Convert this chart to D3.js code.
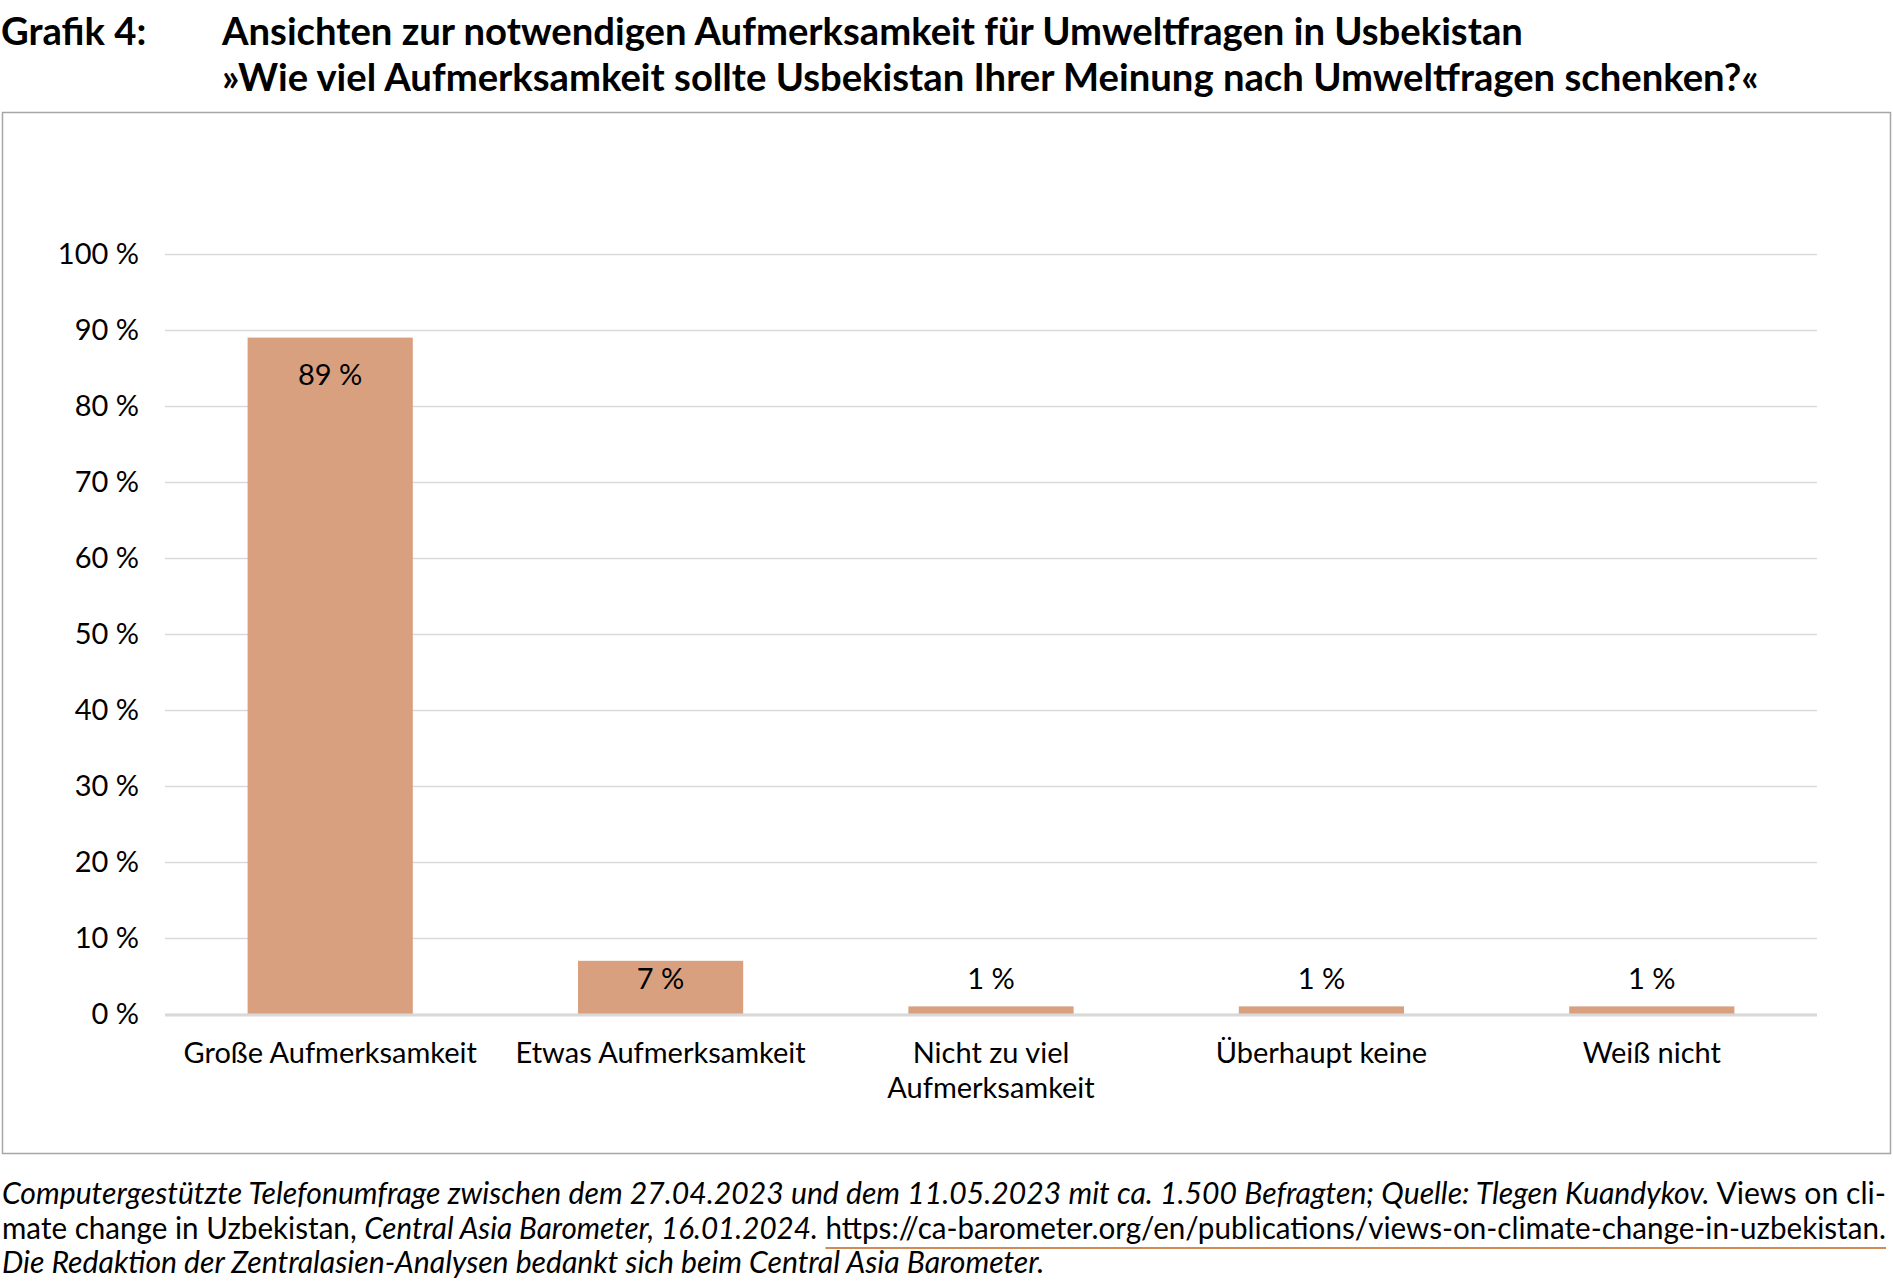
<!DOCTYPE html>
<html>
<head>
<meta charset="utf-8">
<script src="https://cdn.jsdelivr.net/npm/d3@7"></script>
<style>
  html, body { margin: 0; padding: 0; background: #fff; }
  svg { display: block; font-family: Lato, "Open Sans", sans-serif; }
</style>
</head>
<body>
<svg id="chart" width="1893" height="1283"></svg>
<script>
// ---- data ----
const categories = ["Große Aufmerksamkeit", "Etwas Aufmerksamkeit", "Nicht zu viel Aufmerksamkeit", "Überhaupt keine", "Weiß nicht"];
const values = [89, 7, 1, 1, 1];
const yTickValues = [0, 10, 20, 30, 40, 50, 60, 70, 80, 90, 100];
const titleLabel = "Grafik 4:";
const titleLines = ["Ansichten zur notwendigen Aufmerksamkeit für Umweltfragen in Usbekistan",
                    "»Wie viel Aufmerksamkeit sollte Usbekistan Ihrer Meinung nach Umweltfragen schenken?«"];
const footerLines = [
  [["Computergestützte Telefonumfrage zwischen dem 27.04.2023 und dem 11.05.2023 mit ca. 1.500 Befragten; Quelle: Tlegen Kuandykov.", "italic"], [" Views on cli-", "normal"]],
  [["mate change in Uzbekistan, ", "normal"], ["Central Asia Barometer, 16.01.2024.", "italic"], [" ", "normal"], ["https://ca-barometer.org/en/publications/views-on-climate-change-in-uzbekistan.", "link"]],
  [["Die Redaktion der Zentralasien-Analysen bedankt sich beim Central Asia Barometer.", "italic"]]
];

const svg = d3.select("#chart");
const barColor = "#D9A080";
const gridColor = "#D9D9D9";
const labelSize = 29;

// ---- title ----
const t1 = svg.append("text").attr("x", 1).attr("y", 45).attr("font-weight", 700).attr("font-size", 34).attr("fill", "#000").text(titleLabel);
const titleG = svg.append("g");
const tl = titleLines.map((s, i) => titleG.append("text").attr("x", 222).attr("y", 45 + i * 46)
  .attr("font-weight", 700).attr("font-size", 34).attr("fill", "#000").text(s));
{
  const w = tl[1].node().getComputedTextLength();
  const fs = 34 * 1537 / w;
  tl.forEach(t => t.attr("font-size", fs));
  t1.attr("font-size", fs);
}

// ---- frame ----
svg.append("rect").attr("x", 2.5).attr("y", 112.5).attr("width", 1888).attr("height", 1041)
  .attr("fill", "none").attr("stroke", "#A6A6A6").attr("stroke-width", 1.5);

// ---- scales ----
const plotLeft = 165, plotRight = 1817, plotTop = 254, plotBottom = 1014;
const x = d3.scaleBand().domain(categories).range([plotLeft, plotRight]).paddingInner(0.5).paddingOuter(0.25);
const y = d3.scaleLinear().domain([0, 100]).range([plotBottom, plotTop]);

// grid + y axis
const yAxis = d3.axisLeft(y).tickValues(yTickValues).tickFormat(d => d + " %")
  .tickSizeInner(-(plotRight - plotLeft)).tickSizeOuter(0).tickPadding(26);
const gy = svg.append("g").attr("transform", `translate(${plotLeft},0)`).call(yAxis);
gy.select(".domain").remove();
gy.selectAll(".tick line").attr("stroke", gridColor).attr("stroke-width", 1.3);
gy.selectAll(".tick text").attr("font-size", labelSize).attr("fill", "#000").attr("font-family", "Lato, sans-serif");

// bars
svg.append("g").selectAll("rect").data(values).join("rect")
  .attr("x", (d, i) => x(categories[i]))
  .attr("width", x.bandwidth())
  .attr("y", d => y(d))
  .attr("height", d => y(0) - y(d))
  .attr("fill", barColor);

// baseline
svg.append("line").attr("x1", plotLeft).attr("x2", plotRight).attr("y1", y(0) + 1).attr("y2", y(0) + 1)
  .attr("stroke", gridColor).attr("stroke-width", 3);

// value labels
svg.append("g").selectAll("text").data(values).join("text")
  .attr("x", (d, i) => x(categories[i]) + x.bandwidth() / 2)
  .attr("y", d => d >= 50 ? y(d) + 47 : (d >= 5 ? y(d) + 28 : y(d) - 17))
  .attr("text-anchor", "middle").attr("font-size", labelSize).attr("fill", "#000")
  .text(d => d + " %");

// x axis labels (wrapped to band step)
const xAxis = d3.axisBottom(x).tickSize(0).tickPadding(0);
const gx = svg.append("g").attr("transform", `translate(0,${plotBottom})`).call(xAxis);
gx.select(".domain").remove();
gx.selectAll(".tick text").each(function(d) {
  const t = d3.select(this);
  t.text(null).attr("font-size", labelSize).attr("fill", "#000").attr("font-family", "Lato, sans-serif").attr("y", 0).attr("dy", null);
  const words = d.split(" ");
  const maxW = x.step();
  let lines = [], cur = [];
  const probe = t.append("tspan");
  words.forEach(w => {
    const test = cur.concat([w]).join(" ");
    probe.text(test);
    if (probe.node().getComputedTextLength() > maxW && cur.length) { lines.push(cur.join(" ")); cur = [w]; }
    else cur.push(w);
  });
  lines.push(cur.join(" "));
  probe.remove();
  lines.forEach((ln, i) => t.append("tspan").attr("x", 0).attr("y", 49 + i * 35).text(ln));
});

// ---- footer ----
const footY = [1204, 1239, 1273];
const footTexts = footerLines.map((parts, li) => {
  const t = svg.append("text").attr("x", 2).attr("y", footY[li]).attr("font-size", 24).attr("fill", "#000");
  parts.forEach(([s, style]) => {
    t.append("tspan").attr("font-style", style === "italic" ? "italic" : "normal").text(s);
  });
  return t;
});
{
  const w = footTexts[2].node().getComputedTextLength();
  const fs = 24 * 1043 / w;
  footTexts.forEach(t => t.attr("font-size", fs));
}
[0, 1].forEach(li => {
  const t = footTexts[li];
  const target = 1884;
  const w = t.node().getComputedTextLength();
  const spaces = footerLines[li].map(p => p[0]).join("").split(" ").length - 1;
  if (w < target && spaces > 0) t.attr("word-spacing", (target - w) / spaces);
  else if (w > target) t.attr("textLength", target).attr("lengthAdjust", "spacingAndGlyphs");
});
{
  const t = footTexts[1];
  const tspans = t.selectAll("tspan").nodes();
  const link = tspans[tspans.length - 1];
  const n = link.getNumberOfChars();
  const start = link.getStartPositionOfChar(0).x;
  const end = link.getEndPositionOfChar(n - 1).x;
  svg.append("line").attr("x1", start).attr("x2", end).attr("y1", footY[1] + 9).attr("y2", footY[1] + 9)
    .attr("stroke", "#C0651E").attr("stroke-width", 1.5);
}
</script>
</body>
</html>
